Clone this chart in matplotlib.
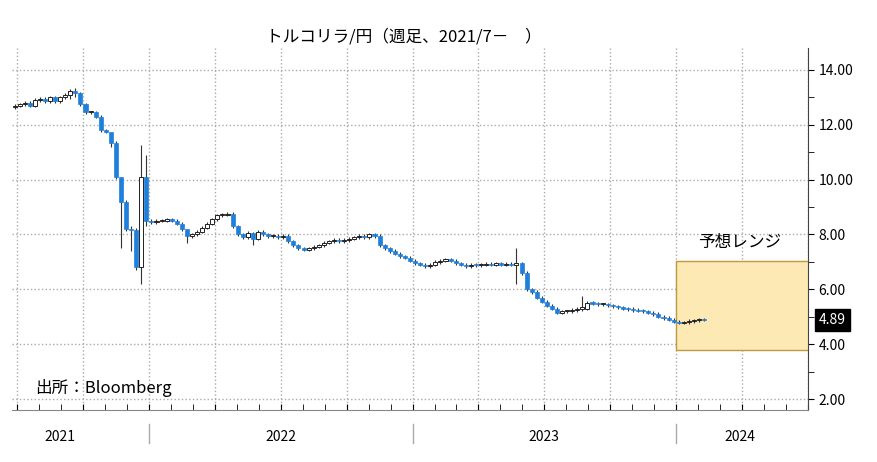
import numpy as np
import matplotlib.pyplot as plt
from matplotlib.patches import Rectangle

plt.rcParams['font.family'] = ['Noto Sans CJK JP']

# 週足終値（2021/7〜、週番号 0 = 2021年7月第1週）
close = [12.7, 12.75, 12.8, 12.7, 12.9, 12.95, 12.85, 13.0, 12.85, 13.0, 13.1, 13.25, 13.15,
         12.75, 12.45, 12.45, 12.3, 11.8, 11.75, 11.35, 10.1, 9.2, 8.2, 8.15, 6.8, 10.1, 8.5,
         8.45, 8.5, 8.5, 8.55, 8.5, 8.4,
         8.2, 7.95, 8.0, 8.1, 8.25,
         8.4, 8.55, 8.7, 8.72, 8.75,
         8.3, 8.0, 7.9, 8.05, 7.85,
         8.1, 8.0, 7.95, 7.95, 7.9,
         7.95, 7.75, 7.6, 7.5, 7.45,
         7.5, 7.55, 7.6, 7.7, 7.75,
         7.8, 7.75, 7.8, 7.85, 7.9,
         7.95, 7.9, 8.0, 7.95, 7.6,
         7.5, 7.4, 7.3, 7.2, 7.15,
         7.05, 6.95, 6.9, 6.85, 6.9,
         7.0, 7.05, 7.1, 7.05, 6.95,
         6.9, 6.85, 6.9, 6.88, 6.9,
         6.92, 6.9, 6.95, 6.9, 6.92,
         6.9, 6.95, 6.6, 6.0, 5.9,
         5.7, 5.55, 5.4, 5.3, 5.15,
         5.2, 5.2, 5.25, 5.3, 5.3,
         5.5, 5.48, 5.45, 5.45, 5.42,
         5.38, 5.35, 5.3, 5.28, 5.25,
         5.22, 5.2, 5.15, 5.1, 5.0,
         4.95, 4.9, 4.82, 4.78, 4.8,
         4.85, 4.87, 4.9, 4.89]
first_open = 12.65

# 目立つヒゲ（週番号: (高値, 安値)）
wicks = {19: (11.6, 11.2), 21: (9.35, 7.5), 23: (8.3, 7.4), 24: (8.25, 6.7), 25: (11.25, 6.2),
         26: (10.9, 8.3), 34: (8.1, 7.7), 47: (8.1, 7.6), 99: (7.5, 6.2), 112: (5.75, 5.2),
         12: (13.35, 13.0), 11: (13.3, 12.95)}

year_labels = ['2021', '2022', '2023', '2024']
year_label_pos = [9, 52.5, 104.5, 143]      # 週番号
year_bounds = [26.5, 78.5, 130.5]
range_lo, range_hi = 3.8, 7.05
last_value = 4.89

opens = [first_open] + close[:-1]
weeks = np.arange(len(close))

fig = plt.figure(figsize=(8.78, 4.62), dpi=100)
ax = fig.add_axes([12 / 878, 52 / 462, 796 / 878, 362 / 462])

ax.add_patch(Rectangle((130.5, range_lo), 30, range_hi - range_lo,
                       facecolor='#fde9b4', edgecolor='#c09a40', lw=1, zorder=1))
ax.text(143, 7.4, '予想レンジ', ha='center', va='bottom', fontsize=12)

for w, o, c in zip(weeks, opens, close):
    hi, lo = wicks.get(w, (max(o, c) + 0.06, min(o, c) - 0.06))
    ax.vlines(w, lo, hi, color='#333333', lw=0.8, zorder=2)
    h = abs(c - o)
    if h < 0.04:
        h = 0.04
    if c < o:
        ax.add_patch(Rectangle((w - 0.4, min(o, c)), 0.8, h, facecolor='#1f80dc',
                               edgecolor='#1f80dc', lw=0.5, zorder=3))
    else:
        ax.add_patch(Rectangle((w - 0.4, min(o, c)), 0.8, h, facecolor='white',
                               edgecolor='#222222', lw=0.7, zorder=3))

ax.set_xlim(-0.5, 156)
ax.set_ylim(1.6, 14.8)
ax.yaxis.tick_right()
ax.set_yticks(np.arange(2, 15, 2))
ax.set_yticklabels([f'{v:.2f}' for v in np.arange(2, 15, 2)], fontsize=10)
ax.set_yticks(np.arange(2, 15, 1), minor=True)
ax.tick_params(axis='y', direction='out', length=4, which='both')
qticks = np.arange(0.5, 157, 13)
ax.set_xticks(qticks)
ax.set_xticklabels([])
ax.set_xticks(np.arange(0.5, 157, 13 / 3), minor=True)
ax.tick_params(axis='x', direction='in', length=4, which='both')
ax.grid(True, ls=':', color='#aaaaaa', lw=1)
ax.set_axisbelow(True)
for s in ['top', 'left']:
    ax.spines[s].set_visible(False)
ax.spines['bottom'].set_color('#888888')
ax.spines['right'].set_color('#444444')

xt = ax.get_xaxis_transform()
for lab, p in zip(year_labels, year_label_pos):
    ax.text(p, -0.075, lab, ha='center', va='center', fontsize=10, transform=xt)
for b in year_bounds:
    ax.plot([b, b], [-0.04, -0.09], transform=xt, color='#aaaaaa', lw=1, clip_on=False)

ax.annotate(f'{last_value:.2f}', xy=(1.0, last_value), xycoords=('axes fraction', 'data'),
            xytext=(8, 0), textcoords='offset points', va='center', ha='left',
            fontsize=10, color='white',
            bbox=dict(boxstyle='square,pad=0.3', fc='black', ec='black'))

ax.text(4, 2.4, '出所：Bloomberg', fontsize=12, ha='left', va='center')
fig.text(0.46, 0.92, 'トルコリラ/円（週足、2021/7－　）', ha='center', va='center', fontsize=12)

fig.savefig('out.png')
